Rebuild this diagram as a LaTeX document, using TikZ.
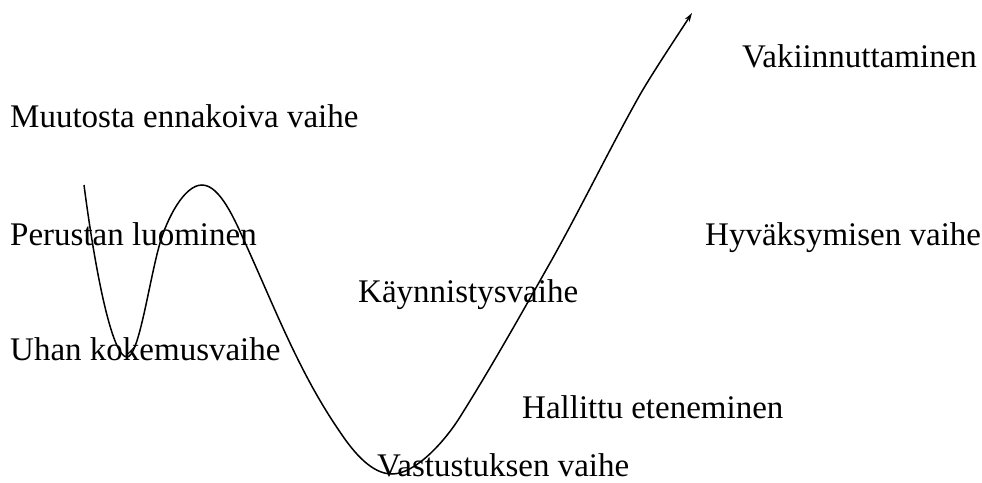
\documentclass[tikz,border=0pt]{standalone}
\usepackage{fontspec}
\setmainfont{Liberation Serif}
\usetikzlibrary{arrows.meta}
\begin{document}
\begin{tikzpicture}[x=1pt,y=-1pt,
  lbl/.style={anchor=base west,inner sep=0pt,font=\fontsize{33}{40}\selectfont},
  curve/.style={line width=1.5pt,-{Stealth[length=9pt,width=5.5pt]}}]
\useasboundingbox (0,0) rectangle (982,482);
\node[lbl] (vak) at (742,67) {Vakiinnuttaminen};
\node[lbl] (muu) at (10,127) {Muutosta ennakoiva vaihe};
\node[lbl] (per) at (10,245) {Perustan luominen};
\node[lbl] (hyv) at (705,245) {Hyväksymisen vaihe};
\node[lbl] (kay) at (358,302) {Käynnistysvaihe};
\node[lbl] (uha) at (10,360) {Uhan kokemusvaihe};
\node[lbl] (hal) at (522,418) {Hallittu eteneminen};
\node[lbl] (vas) at (377,476) {Vastustuksen vaihe};
\coordinate (A) at (84,185);
\coordinate (K) at (692,13);
\draw[curve] (A)
  .. controls (95,270) and (112,357) .. (127,357)
  .. controls (139,357) and (149,281) .. (160,243)
  .. controls (167,219) and (184,185) .. (202,185)
  .. controls (220,185) and (235,220) .. (247,247)
  .. controls (276,311) and (300,374) .. (340,432)
  .. controls (354,453) and (372,474) .. (392,474)
  .. controls (415,474) and (444,442.5) .. (460,417)
  .. controls (492,366) and (520.6,315) .. (550,263)
  .. controls (579.4,210.8) and (608,152) .. (637,100)
  .. controls (649,78) and (678.5,34) .. (K);
\end{tikzpicture}
\end{document}
